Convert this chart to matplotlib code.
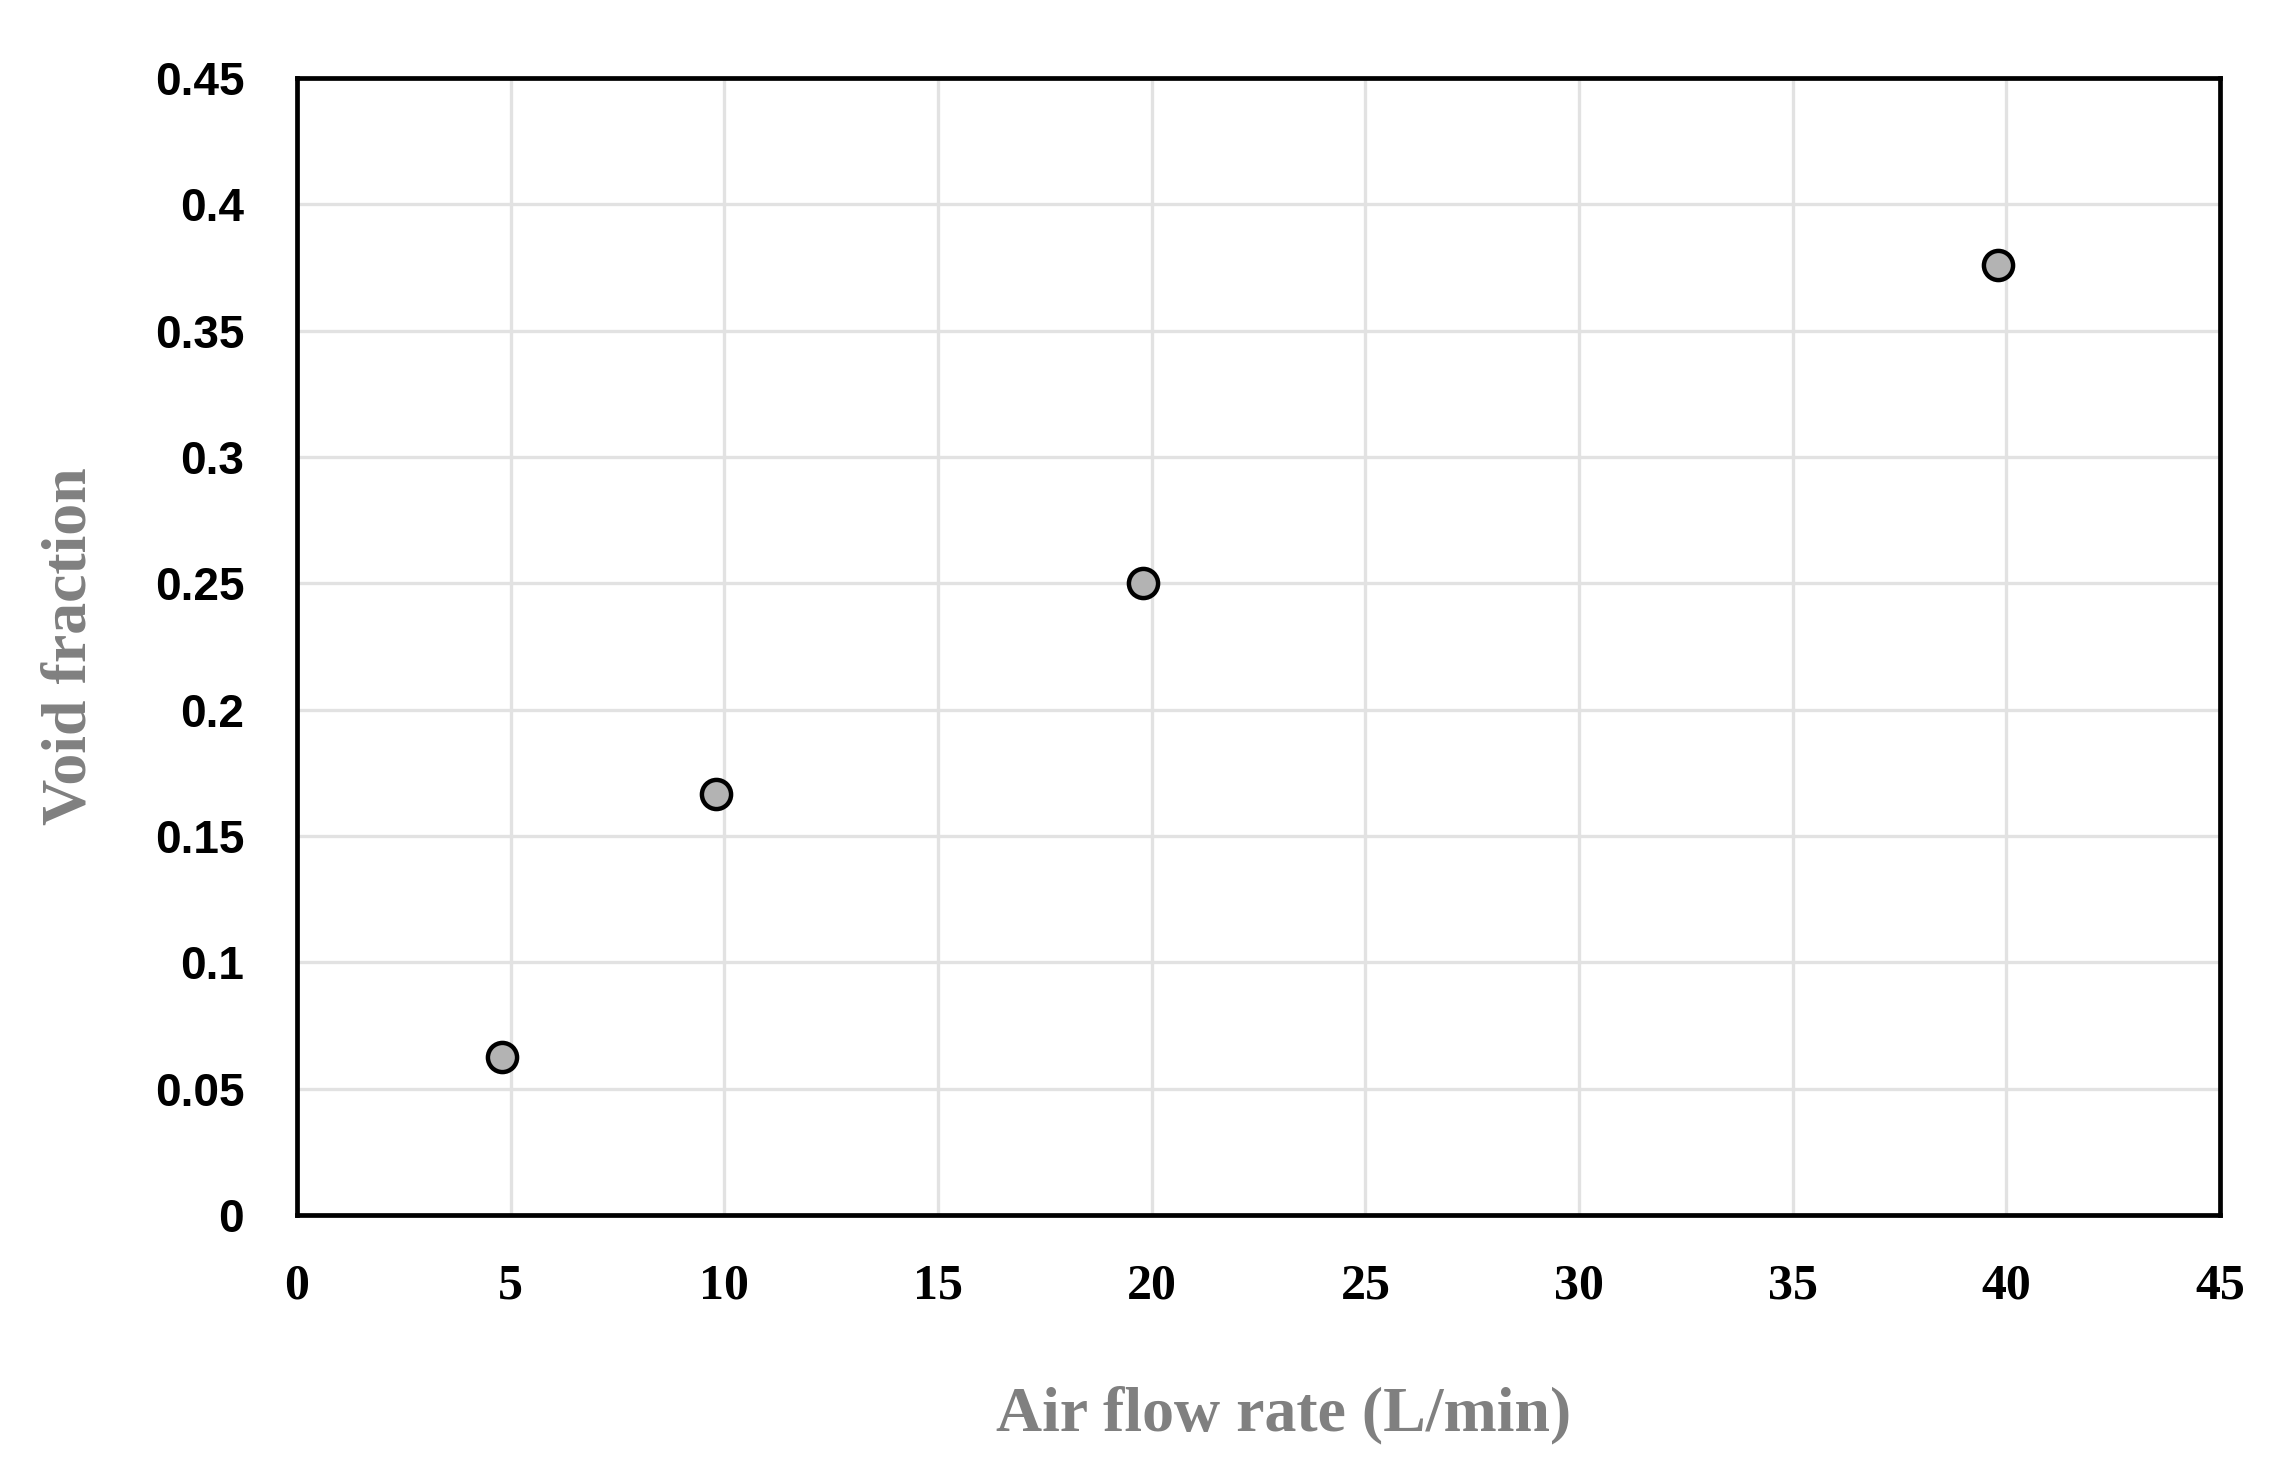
from matplotlib import pyplot as plt
from matplotlib import font_manager

# air flow rate (L/min) and measured void fraction
air_flow = [4.8, 9.8, 19.8, 39.8]
void_fraction = [0.0625, 0.1667, 0.25, 0.376]

x_ticks = [0, 5, 10, 15, 20, 25, 30, 35, 40, 45]
y_ticks = [0, 0.05, 0.1, 0.15, 0.2, 0.25, 0.3, 0.35, 0.4, 0.45]
y_tick_labels = ['0', '0.05', '0.1', '0.15', '0.2', '0.25', '0.3', '0.35', '0.4', '0.45']

names = {f.name for f in font_manager.fontManager.ttflist}
narrow = 'Liberation Sans Narrow' if 'Liberation Sans Narrow' in names else 'Liberation Sans'
serif = 'Liberation Serif'

fig = plt.figure(figsize=(22.95, 14.74), dpi=100)
ax = fig.add_axes([0.1294, 0.1757, 0.838, 0.7713])

ax.plot(air_flow, void_fraction, linestyle='none', marker='o', markersize=21,
        markerfacecolor='#b3b3b3', markeredgecolor='black', markeredgewidth=3.2,
        zorder=3)

ax.set_xlim(0, 45)
ax.set_ylim(0, 0.45)
ax.set_xticks(x_ticks)
ax.set_yticks(y_ticks)
ax.set_xticklabels([str(t) for t in x_ticks], fontfamily=serif, fontweight='bold', fontsize=36)
ax.set_yticklabels(y_tick_labels, fontfamily=narrow, fontweight='bold', fontsize=33)
ax.tick_params(length=0)
ax.tick_params(axis='y', pad=38)
ax.tick_params(axis='x', pad=35)

ax.grid(True, color='#e2e2e2', linewidth=2.4)
ax.set_axisbelow(True)
for spine in ax.spines.values():
    spine.set_linewidth(3.4)
    spine.set_color('black')

ax.set_xlabel('Air flow rate (L/min)', fontfamily=serif, fontweight='bold',
              fontsize=46, color='#808080', labelpad=55)
ax.xaxis.label.set_x(0.513)
ax.set_ylabel('Void fraction', fontfamily=serif, fontweight='bold',
              fontsize=46, color='#808080', labelpad=40)

fig.savefig('out.png', dpi=100)
